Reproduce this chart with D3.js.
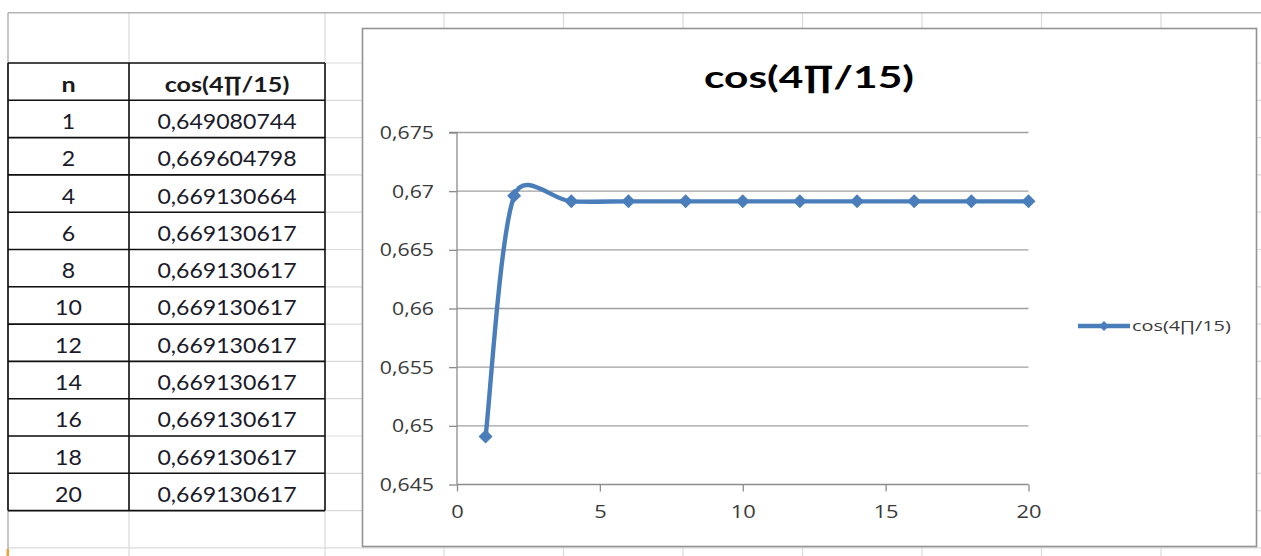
<!DOCTYPE html>
<html>
<head>
<meta charset="utf-8">
<script src="https://cdn.jsdelivr.net/npm/d3@7"></script>
<style>
  html, body { margin: 0; padding: 0; background: #fff; overflow: hidden; }
  svg { display: block; }
</style>
</head>
<body>
<svg id="sheet" width="1261" height="556"></svg>
<script>
// ---- data ----
const nValues = [1, 2, 4, 6, 8, 10, 12, 14, 16, 18, 20];
const cosValues = [0.649080744, 0.669604798, 0.669130664, 0.669130617, 0.669130617,
                   0.669130617, 0.669130617, 0.669130617, 0.669130617, 0.669130617, 0.669130617];
const seriesName = "cos(4∏/15)";
const tableHeaders = ["n", "cos(4∏/15)"];
const xTickValues = [0, 5, 10, 15, 20];
const xTickLabels = ["0", "5", "10", "15", "20"];
const yTickValues = [0.645, 0.65, 0.655, 0.66, 0.665, 0.67, 0.675];
const yTickLabels = ["0,645", "0,65", "0,655", "0,66", "0,665", "0,67", "0,675"];

const points = nValues.map((n, i) => ({ n, v: cosValues[i] }));
const decimalComma = v => String(v).replace(".", ",");

const svg = d3.select("#sheet");
const W = 1261, H = 556;
const seriesColor = "#4a7ebb";

// widen text horizontally by a factor k of its natural width
function widen(sel, k) {
  sel.each(function () {
    const w = this.getComputedTextLength();
    if (w > 0) {
      this.setAttribute("textLength", (w * k).toFixed(1));
      this.setAttribute("lengthAdjust", "spacingAndGlyphs");
    }
  });
  return sel;
}

// Spreadsheet-style smoothing: cubic Bezier segments whose tangents follow
// (P[i+1] - P[i-1]) / 6, each handle limited to half of its segment length.
function SmoothCurve(context) { this._context = context; }
SmoothCurve.prototype = {
  areaStart() { this._line = 0; },
  areaEnd() { this._line = NaN; },
  lineStart() { this._pts = []; },
  point(px, py) { this._pts.push([+px, +py]); },
  lineEnd() {
    const p = this._pts, n = p.length, c = this._context;
    if (!n) return;
    c.moveTo(p[0][0], p[0][1]);
    if (n === 1) return;
    const tan = p.map((pt, i) => {
      const a = p[Math.max(0, i - 1)], b = p[Math.min(n - 1, i + 1)];
      return [(b[0] - a[0]) / 6, (b[1] - a[1]) / 6];
    });
    const cap = (t, m) => {
      const len = Math.hypot(t[0], t[1]);
      return len > m ? [t[0] * m / len, t[1] * m / len] : t;
    };
    for (let i = 0; i < n - 1; i++) {
      const a = p[i], b = p[i + 1];
      const m = 0.5 * Math.hypot(b[0] - a[0], b[1] - a[1]);
      const t0 = cap(tan[i], m), t1 = cap(tan[i + 1], m);
      c.bezierCurveTo(a[0] + t0[0], a[1] + t0[1], b[0] - t1[0], b[1] - t1[1], b[0], b[1]);
    }
  }
};
const smoothCurve = context => new SmoothCurve(context);

// ---- worksheet grid ----
const grid = svg.append("g").attr("class", "worksheet");
const sheetTop = 12.7, sheetLeft = 8;
const rowTop = 63, rowH = 37.3;
const colLines = [129, 325, 444, 563.5, 683, 802.5, 922, 1041.5, 1161];
const rowLines = d3.range(14).map(i => rowTop + i * rowH);

grid.selectAll("line.col").data(colLines).join("line")
  .attr("x1", d => d).attr("x2", d => d)
  .attr("y1", sheetTop).attr("y2", H)
  .attr("stroke", "#dadada").attr("stroke-width", 1.2);
grid.selectAll("line.row").data(rowLines).join("line")
  .attr("x1", sheetLeft).attr("x2", W)
  .attr("y1", d => d).attr("y2", d => d)
  .attr("stroke", "#dadada").attr("stroke-width", 1.2);
grid.append("line").attr("x1", sheetLeft).attr("x2", W)
  .attr("y1", sheetTop).attr("y2", sheetTop)
  .attr("stroke", "#b4b4b4").attr("stroke-width", 1.5);
grid.append("line").attr("x1", sheetLeft).attr("x2", sheetLeft)
  .attr("y1", sheetTop).attr("y2", H)
  .attr("stroke", "#b4b4b4").attr("stroke-width", 1.5);
grid.append("rect").attr("x", 6.5).attr("y", 549).attr("width", 2.5).attr("height", 7)
  .attr("fill", "#e8a33a");

// ---- data table ----
const table = svg.append("g").attr("class", "table");
const colX = [sheetLeft, 129, 325];
const nRows = points.length + 1;
const tableBottom = rowTop + nRows * rowH;

table.selectAll("line.hr").data(d3.range(nRows + 1)).join("line")
  .attr("x1", colX[0]).attr("x2", colX[2])
  .attr("y1", i => rowTop + i * rowH).attr("y2", i => rowTop + i * rowH)
  .attr("stroke", "#111").attr("stroke-width", 1.6);
table.selectAll("line.vr").data(colX).join("line")
  .attr("x1", d => d).attr("x2", d => d)
  .attr("y1", rowTop).attr("y2", tableBottom)
  .attr("stroke", "#111").attr("stroke-width", 1.6);

const colMid = [(colX[0] + colX[1]) / 2, (colX[1] + colX[2]) / 2];
const textDrop = rowH / 2 + 10;
const headerText = table.selectAll("text.hdr").data(tableHeaders).join("text")
  .attr("x", (d, i) => colMid[i]).attr("y", rowTop + textDrop)
  .attr("text-anchor", "middle")
  .attr("font-family", "Lato, 'Open Sans', sans-serif")
  .attr("font-weight", 700).attr("font-size", 21).attr("fill", "#1a1a1a")
  .text(d => d);
widen(headerText, 1.2);

const rows = table.selectAll("g.row").data(points).join("g")
  .attr("transform", (d, i) => `translate(0,${rowTop + (i + 1) * rowH + textDrop})`);
const cellN = rows.append("text").attr("x", colMid[0]).attr("text-anchor", "middle")
  .attr("font-family", "Lato, 'Open Sans', sans-serif").attr("font-size", 21).attr("fill", "#1a1a2a")
  .text(d => d.n);
const cellV = rows.append("text").attr("x", colMid[1]).attr("text-anchor", "middle")
  .attr("font-family", "Lato, 'Open Sans', sans-serif").attr("font-size", 21).attr("fill", "#1a1a2a")
  .text(d => decimalComma(d.v));
widen(cellN, 1.1);
widen(cellV, 1.1);

// ---- chart ----
const chart = svg.append("g").attr("class", "chart");
chart.append("rect").attr("x", 362.5).attr("y", 28.5).attr("width", 894).attr("height", 518)
  .attr("fill", "#fff").attr("stroke", "#939393").attr("stroke-width", 1.6);

const title = chart.append("text").attr("x", 809).attr("y", 88)
  .attr("text-anchor", "middle")
  .attr("font-family", "Lato, 'Open Sans', sans-serif").attr("font-weight", 700)
  .attr("font-size", 31).attr("fill", "#000")
  .text(seriesName);
widen(title, 1.37);

const x = d3.scaleLinear().domain([0, 20]).range([457, 1028.5]);
const y = d3.scaleLinear().domain([0.645, 0.675]).range([484.5, 132.5]);

// horizontal gridlines
chart.append("g").selectAll("line").data(yTickValues.slice(1)).join("line")
  .attr("x1", x(0)).attr("x2", x(20))
  .attr("y1", d => y(d)).attr("y2", d => y(d))
  .attr("stroke", "#a0a0a0").attr("stroke-width", 1.3);

// axes
const yAxis = chart.append("g").attr("transform", `translate(${x(0)},0)`)
  .call(d3.axisLeft(y).tickValues(yTickValues).tickFormat((d, i) => yTickLabels[i])
    .tickSize(8).tickPadding(15));
const xAxis = chart.append("g").attr("transform", `translate(0,${y(0.645)})`)
  .call(d3.axisBottom(x).tickValues(xTickValues).tickFormat((d, i) => xTickLabels[i])
    .tickSize(7).tickPadding(13));
[yAxis, xAxis].forEach(ax => {
  ax.select(".domain").attr("stroke", "#8c8c8c").attr("stroke-width", 1.3);
  ax.selectAll(".tick line").attr("stroke", "#8c8c8c").attr("stroke-width", 1.3);
  ax.selectAll(".tick text")
    .attr("font-family", "'Open Sans', sans-serif").attr("font-size", 19).attr("fill", "#3a3a3a");
});
yAxis.select(".domain").attr("d", `M-8,${y(0.675)}H0V${y(0.645)}`);
xAxis.select(".domain").attr("d", `M${x(0)},0H${x(20)}`);
widen(yAxis.selectAll(".tick text"), 1.12);
widen(xAxis.selectAll(".tick text"), 1.15);

// smoothed series line with diamond markers
const line = d3.line().x(d => x(d.n)).y(d => y(d.v)).curve(smoothCurve);
chart.append("path").datum(points).attr("d", line)
  .attr("fill", "none").attr("stroke", seriesColor).attr("stroke-width", 4.4)
  .attr("stroke-linejoin", "round").attr("stroke-linecap", "round");
const diamond = r => `M0,${-r}L${r},0L0,${r}L${-r},0Z`;
chart.append("g").selectAll("path").data(points).join("path")
  .attr("transform", d => `translate(${x(d.n)},${y(d.v)})`)
  .attr("d", diamond(7)).attr("fill", seriesColor);

// legend
const legend = chart.append("g").attr("transform", "translate(1078,326)");
legend.append("line").attr("x1", 0).attr("x2", 52).attr("y1", 0).attr("y2", 0)
  .attr("stroke", seriesColor).attr("stroke-width", 4.4);
legend.append("path").attr("transform", "translate(26,0)").attr("d", diamond(5)).attr("fill", seriesColor);
const legendText = legend.append("text").attr("x", 54).attr("y", 5)
  .attr("font-family", "'Open Sans', sans-serif").attr("font-size", 14).attr("fill", "#3a3a3a")
  .text(seriesName);
widen(legendText, 1.42);
</script>
</body>
</html>
